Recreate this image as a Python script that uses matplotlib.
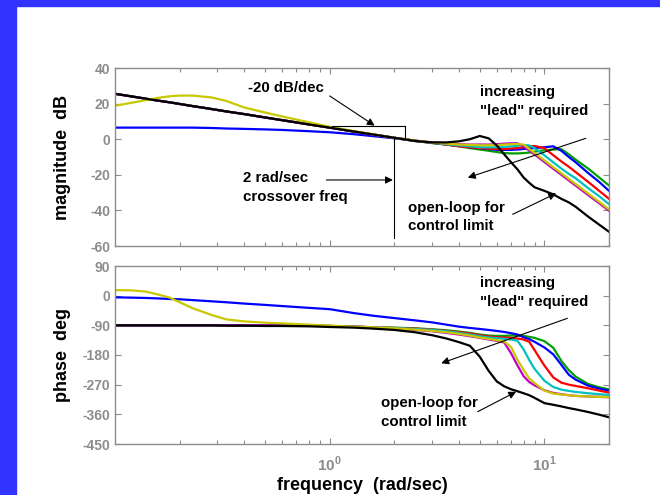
import matplotlib
matplotlib.use('Agg')
import matplotlib.pyplot as plt
from matplotlib.patches import Rectangle
from matplotlib.ticker import FixedLocator, FixedFormatter, NullFormatter

plt.rcParams['font.family'] = ['Liberation Sans', 'DejaVu Sans']
plt.rcParams['font.weight'] = 'bold'
plt.rcParams['axes.unicode_minus'] = False
plt.rcParams['mathtext.fontset'] = 'custom'
plt.rcParams['mathtext.rm'] = 'Liberation Sans:bold'
plt.rcParams['mathtext.bf'] = 'Liberation Sans:bold'

# frequency grid (rad/sec)
freq = [0.1, 0.12, 0.14, 0.16, 0.18, 0.2, 0.23, 0.28, 0.33, 0.4, 0.5, 0.6, 0.8,
        1, 1.3, 1.6, 2, 2.5, 3, 3.5, 4, 4.5, 5, 5.5, 6, 6.5, 7, 7.5, 8, 8.5, 9,
        10, 11, 12, 13, 14, 16, 18, 20]

# magnitude, dB
low_mag = [25.5, 24.0, 22.7, 21.6, 20.7, 19.8, 18.6, 17.0, 15.6, 14.1, 12.2, 10.7, 8.3,
           6.5, 4.3, 2.6, 0.8]
mag_black = low_mag + [-1.0, -1.8, -1.8, -1.2, 0.0, 1.8, 0.5, -3.5, -8.5, -13, -17, -21.5, -24.5, -27,
                       -29, -31, -33.5, -35.5, -38, -43.5, -48, -52]
mag_green = low_mag + [-1.0, -2.2, -3.0, -4.0, -5.0, -5.8, -6.5, -7.2, -7.8, -8.0, -8.0, -7.8, -7.5, -7.0,
                       -6.2, -5.8, -5.6, -8.5, -11.5, -16.5, -21.5, -26]
mag_blue = [6.5, 6.5, 6.5, 6.5, 6.5, 6.5, 6.5, 6.3, 6.0, 5.8, 5.5, 5.2, 4.5,
            3.9, 2.8, 1.7, 0.5, -0.8, -2.0, -3.0, -3.8, -4.5, -5.0, -5.5, -6.0, -6.0, -6.0, -5.8, -5.5, -5.2, -5.0,
            -4.5, -4.0, -6.5, -10, -13, -19, -24, -29]
mag_red = low_mag + [-1.0, -2.0, -3.0, -4.0, -4.5, -5.0, -5.3, -5.5, -5.5, -5.2, -5.0, -4.5, -4.0, -3.8,
                     -5.0, -9.0, -12.5, -15.5, -18.5, -24, -29, -33.5]
mag_cyan = low_mag + [-1.0, -2.0, -2.8, -3.5, -4.0, -4.5, -4.6, -4.5, -4.3, -4.0, -3.7, -3.3, -3.5, -5.0,
                      -9.0, -13, -16.5, -19.5, -22, -27.5, -32, -36.5]
mag_yellow = [18.8, 20.5, 22.0, 23.3, 24.1, 24.5, 24.5, 23.5, 21.5, 17.8, 15.0, 12.8, 9.5,
              7.0, 4.5, 2.7, 0.8, -0.8, -1.8, -2.5, -3.0, -3.2, -3.4, -3.4, -3.3, -3.0, -2.8, -2.7, -3.0, -5.5, -7.7,
              -11.9, -15.7, -19.1, -22.3, -25.2, -30.5, -35.2, -39.4]
mag_magenta = low_mag + [-0.8, -1.8, -2.3, -2.8, -3.0, -3.0, -3.0, -2.8, -2.5, -2.3, -2.3, -4.0, -6.4, -8.6,
                         -12.8, -16.6, -20, -23.2, -26.1, -31.4, -36, -40.2]

# phase, deg
low_ph = [-90] * 11 + [-90, -91, -92, -94, -96]
ph_black = [-90, -90, -90, -90, -90, -90, -90, -90, -91, -91, -92, -92, -93,
            -95, -97, -100, -104, -111, -120, -130, -141, -152, -185, -228, -260, -275, -284, -290, -296, -302, -310,
            -326, -331, -336, -341, -345, -353, -361, -369]
ph_green = low_ph + [-97, -99, -102, -105, -109, -113, -118, -121, -122, -122, -121, -121, -122, -125, -128,
                     -138, -158, -198, -226, -246, -268, -278, -284]
ph_blue = [-5, -6, -7, -8.5, -10, -11, -13.5, -17, -20, -24, -28, -31.5, -37,
           -41, -53, -61, -68, -75, -81, -88, -94, -98, -101, -104, -107, -110, -114, -118, -126, -132, -140,
           -157, -178, -210, -240, -255, -273, -282, -288]
ph_red = low_ph + [-98, -100, -103, -107, -111, -115, -120, -124, -126, -127, -128, -130, -133, -140, -165,
                   -212, -248, -264, -270, -274, -281, -288, -294]
ph_cyan = low_ph + [-98, -101, -104, -108, -113, -118, -123, -127, -129, -131, -133, -137, -163, -195, -222,
                    -258, -277, -285, -289, -292, -296, -299, -301]
ph_yellow = [17, 16, 12, 3, -6, -20, -38, -58, -72, -78, -82, -84, -88,
             -91, -94, -96, -99, -103, -107, -111, -116, -121, -127, -131, -135, -139, -156, -195, -225, -251, -265,
             -288, -297, -300, -302, -304, -306, -307, -308]
ph_magenta = low_ph + [-100, -104, -108, -113, -118, -123, -128, -133, -137, -142, -175, -212, -244, -262, -272,
                       -287, -295, -299, -302, -304, -306, -307, -308]

colors = {'green': '#00a000', 'blue': '#0000ff', 'red': '#ff0000', 'cyan': '#00c0c0',
          'magenta': '#c000c0', 'yellow': '#c8c800', 'black': '#000000'}
mag = {'green': mag_green, 'blue': mag_blue, 'red': mag_red, 'cyan': mag_cyan,
       'magenta': mag_magenta, 'yellow': mag_yellow, 'black': mag_black}
ph = {'green': ph_green, 'blue': ph_blue, 'red': ph_red, 'cyan': ph_cyan,
      'magenta': ph_magenta, 'yellow': ph_yellow, 'black': ph_black}

gray = '#8c8c8c'
fig = plt.figure(figsize=(6.6, 4.95), dpi=100)
fig.patches.append(Rectangle((0, 0), 16 / 660, 1, transform=fig.transFigure, color='#3333ff', zorder=0))
fig.patches.append(Rectangle((0, 1 - 6 / 495), 1, 6 / 495, transform=fig.transFigure, color='#3333ff', zorder=0))

ax1 = fig.add_axes([115 / 660, 1 - 246 / 495, 494 / 660, 178 / 495])
ax2 = fig.add_axes([115 / 660, 1 - 444 / 495, 494 / 660, 178 / 495])

for ax, data in ((ax1, mag), (ax2, ph)):
    for name in ['green', 'blue', 'red', 'cyan', 'magenta', 'yellow', 'black']:
        ax.plot(freq, data[name], color=colors[name], lw=1.6)
    ax.set_xscale('log')
    ax.set_xlim(0.1, 20)
    ax.xaxis.set_major_locator(FixedLocator([1, 10]))
    ax.xaxis.set_minor_locator(FixedLocator([0.2, 0.3, 0.4, 0.5, 0.6, 0.7, 0.8, 0.9,
                                             2, 3, 4, 5, 6, 7, 8, 9, 20]))
    ax.xaxis.set_minor_formatter(NullFormatter())
    ax.tick_params(which='both', direction='in', top=True, right=True, colors=gray,
                   labelsize=10, length=4, width=0.8)
    ax.tick_params(which='minor', length=3)
    for s in ax.spines.values():
        s.set_color(gray)
        s.set_linewidth(1.0)

ax1.set_ylim(-60, 40)
ax1.set_yticks([-60, -40, -20, 0, 20, 40])
ax1.xaxis.set_major_formatter(NullFormatter())
ax2.set_ylim(-450, 90)
ax2.set_yticks([-450, -360, -270, -180, -90, 0, 90])
ax2.xaxis.set_major_formatter(FixedFormatter(['$10^{0}$', '$10^{1}$']))
ax2.tick_params(axis='x', pad=8, labelsize=11)
for ax in (ax1, ax2):
    for lab in ax.get_yticklabels():
        lab.set_fontweight('bold')

ax1.set_ylabel('magnitude  dB', fontsize=13, fontweight='bold')
ax2.set_ylabel('phase  deg', fontsize=13, fontweight='bold')
ax2.set_xlabel('frequency  (rad/sec)', fontsize=13, fontweight='bold', labelpad=2)
ax1.yaxis.set_label_coords(-0.09, 0.5)
ax2.yaxis.set_label_coords(-0.09, 0.5)

tsize = 10.8
arrow = dict(arrowstyle='-|>', color='k', lw=0.8, mutation_scale=11, shrinkA=0, shrinkB=0)

# magnitude annotations
ax1.text(0.415, 28.8, '-20 dB/dec', fontsize=tsize, fontweight='bold', va='center')
ax1.annotate('', xy=(1.62, 7.6), xytext=(1.0, 24.3), arrowprops=arrow)
ax1.plot([1.02, 2.25], [7.4, 7.4], color='k', lw=0.8)
ax1.plot([2.25, 2.25], [7.4, 0.5], color='k', lw=0.8)
ax1.plot([1.99, 1.99], [0.5, -55.7], color='k', lw=0.8)
ax1.text(0.395, -22, '2 rad/sec', fontsize=tsize, fontweight='bold', va='center')
ax1.text(0.395, -32.3, 'crossover freq', fontsize=tsize, fontweight='bold', va='center')
ax1.annotate('', xy=(1.97, -22.9), xytext=(0.965, -22.9), arrowprops=arrow)
ax1.text(5.02, 26.3, 'increasing', fontsize=tsize, fontweight='bold', va='center')
ax1.text(5.02, 15.8, '"lead" required', fontsize=tsize, fontweight='bold', va='center')
ax1.annotate('', xy=(4.4, -21.6), xytext=(15.6, 0.5), arrowprops=arrow)
ax1.text(2.31, -38.5, 'open-loop for', fontsize=tsize, fontweight='bold', va='center')
ax1.text(2.31, -48.6, 'control limit', fontsize=tsize, fontweight='bold', va='center')
ax1.annotate('', xy=(11.34, -30.4), xytext=(7.12, -42.2), arrowprops=arrow)

# phase annotations
ax2.text(5.02, 37.5, 'increasing', fontsize=tsize, fontweight='bold', va='center')
ax2.text(5.02, -18.3, '"lead" required', fontsize=tsize, fontweight='bold', va='center')
ax2.annotate('', xy=(3.31, -205), xytext=(12.8, -68.7), arrowprops=arrow)
ax2.text(1.74, -326.6, 'open-loop for', fontsize=tsize, fontweight='bold', va='center')
ax2.text(1.74, -382.4, 'control limit', fontsize=tsize, fontweight='bold', va='center')
ax2.annotate('', xy=(7.39, -291.4), xytext=(4.89, -352), arrowprops=arrow)

fig.savefig('out.png', dpi=100)
